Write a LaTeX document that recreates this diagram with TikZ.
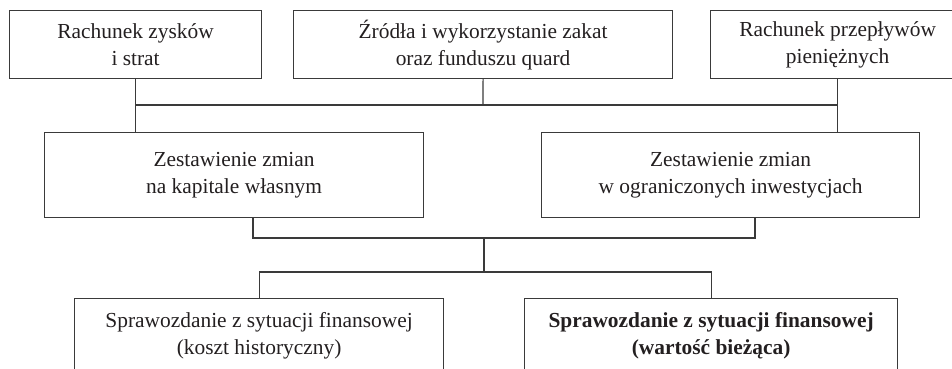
\documentclass[tikz,border=0pt]{standalone}
\usepackage{fontspec}
\setmainfont{Liberation Serif}
\definecolor{linegray}{HTML}{3A3A3A}
\definecolor{textgray}{HTML}{231F20}
\begin{document}
\begin{tikzpicture}[x=1pt,y=-1pt,
  box/.style={draw=linegray, line width=1.2pt, anchor=north west, inner sep=0pt,
    align=center, text=textgray, font=\fontsize{21.4}{27}\selectfont},
  link/.style={draw=linegray, line width=1.2pt}]
\useasboundingbox (0,0) rectangle (952,369);
\clip (0,0) rectangle (952,369);

% top row
\node[box, minimum width=252pt, minimum height=68pt] (b1) at (9,10) {Rachunek zysków\\i strat};
\node[box, minimum width=379pt, minimum height=68pt] (b2) at (293,10) {Źródła i wykorzystanie zakat\\oraz funduszu quard};
\node[box, minimum width=254pt, minimum height=68pt] (b3) at (710,10) {Rachunek przepływów\\pieniężnych};

% middle row
\node[box, minimum width=379pt, minimum height=85pt] (b4) at (44,132) {Zestawienie zmian\\na kapitale własnym};
\node[box, minimum width=378pt, minimum height=85pt] (b5) at (541,132) {Zestawienie zmian\\w ograniczonych inwestycjach};

% bottom row
\node[box, minimum width=369pt, minimum height=74pt] (b6) at (74,298) {Sprawozdanie z sytuacji finansowej\\(koszt historyczny)};
\node[box, minimum width=373pt, minimum height=74pt, font=\fontsize{21.4}{27}\selectfont\bfseries] (b7) at (524,298) {Sprawozdanie z sytuacji finansowej\\(wartość bieżąca)};

% junction points
\coordinate (busA) at (483,105);
\coordinate (leftB) at (253,238);
\coordinate (rightB) at (755,238);
\coordinate (midB) at (484,238);
\coordinate (midC) at (484,272);

% top bus
\draw[link] (b1.south) -- (b4.north -| b1.south);
\draw[link] (b3.south) -- (b5.north -| b3.south);
\draw[link] (busA -| b1.south) -- (busA -| b3.south);
\draw[link] (b2.south) -- (busA);

% middle bus
\draw[link] (b4.south -| leftB) -- (leftB) -- (rightB) -- (b5.south -| rightB);
\draw[link] (midB) -- (midC);

% bottom bus
\draw[link] (b6.north) -- (b6.north |- midC) -- (b7.north |- midC) -- (b7.north);
\end{tikzpicture}
\end{document}
